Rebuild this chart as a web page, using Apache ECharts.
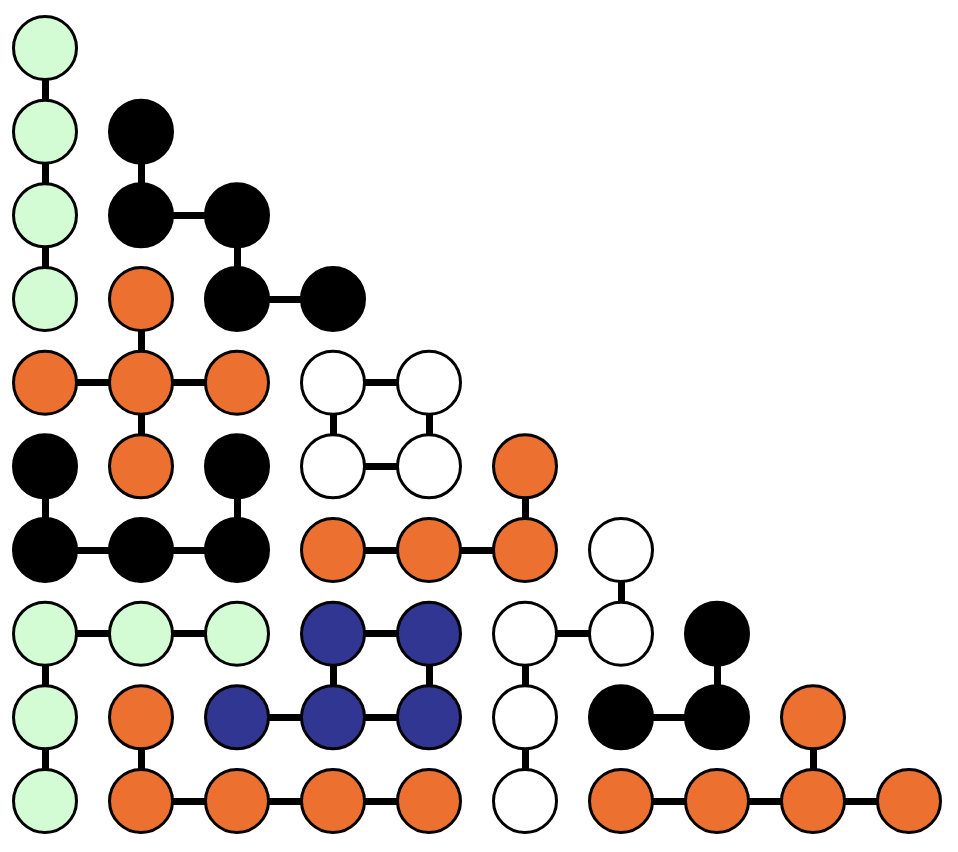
<!DOCTYPE html>
<html>
<head>
<meta charset="utf-8">
<title>grid graph</title>
<script src="https://cdn.jsdelivr.net/npm/echarts@6/dist/echarts.min.js"></script>
<style>html,body{margin:0;background:#fff;}</style>
</head>
<body>
<div id="chart" style="width:958px;height:852px;"></div>
<script type="text/javascript">
// nodes: [col, row, colour key]
var nodes = [
  [0,0,'g'],
  [0,1,'g'],[1,1,'k'],
  [0,2,'g'],[1,2,'k'],[2,2,'k'],
  [0,3,'g'],[1,3,'o'],[2,3,'k'],[3,3,'k'],
  [0,4,'o'],[1,4,'o'],[2,4,'o'],[3,4,'w'],[4,4,'w'],
  [0,5,'k'],[1,5,'o'],[2,5,'k'],[3,5,'w'],[4,5,'w'],[5,5,'o'],
  [0,6,'k'],[1,6,'k'],[2,6,'k'],[3,6,'o'],[4,6,'o'],[5,6,'o'],[6,6,'w'],
  [0,7,'g'],[1,7,'g'],[2,7,'g'],[3,7,'b'],[4,7,'b'],[5,7,'w'],[6,7,'w'],[7,7,'k'],
  [0,8,'g'],[1,8,'o'],[2,8,'b'],[3,8,'b'],[4,8,'b'],[5,8,'w'],[6,8,'k'],[7,8,'k'],[8,8,'o'],
  [0,9,'g'],[1,9,'o'],[2,9,'o'],[3,9,'o'],[4,9,'o'],[5,9,'w'],[6,9,'o'],[7,9,'o'],[8,9,'o'],[9,9,'o']
];
// edges: [c1, r1, c2, r2]
var edges = [
  [0,0,0,1],[0,1,0,2],[0,2,0,3],
  [1,1,1,2],[1,2,2,2],[2,2,2,3],[2,3,3,3],
  [1,3,1,4],[0,4,1,4],[1,4,2,4],[1,4,1,5],
  [3,4,4,4],[3,4,3,5],[4,4,4,5],[3,5,4,5],
  [0,5,0,6],[0,6,1,6],[1,6,2,6],[2,5,2,6],
  [3,6,4,6],[4,6,5,6],[5,5,5,6],
  [6,6,6,7],[5,7,6,7],[5,7,5,8],[5,8,5,9],
  [0,7,1,7],[1,7,2,7],[0,7,0,8],[0,8,0,9],
  [3,7,4,7],[3,7,3,8],[4,7,4,8],[2,8,3,8],[3,8,4,8],
  [7,7,7,8],[6,8,7,8],
  [1,8,1,9],[1,9,2,9],[2,9,3,9],[3,9,4,9],
  [6,9,7,9],[7,9,8,9],[8,9,9,9],[8,8,8,9]
];
var palette = {g:'#d4fcd4', k:'#000000', o:'#ec7130', w:'#ffffff', b:'#323693'};

var chart = echarts.init(document.getElementById('chart'));
chart.setOption({
  animation: false,
  grid: {left: 45, right: 49, top: 48, bottom: 51},
  xAxis: {type: 'value', min: 0, max: 9, show: false},
  yAxis: {type: 'value', min: 0, max: 9, inverse: true, show: false},
  series: [{
    type: 'graph',
    coordinateSystem: 'cartesian2d',
    symbol: 'circle',
    symbolSize: 63,
    data: nodes.map(function (n) {
      return {name: n[0] + '_' + n[1], value: [n[0], n[1]],
        itemStyle: {color: palette[n[2]], borderColor: '#000', borderWidth: 3}};
    }),
    links: edges.map(function (e) {
      return {source: e[0] + '_' + e[1], target: e[2] + '_' + e[3]};
    }),
    lineStyle: {color: '#000', width: 7, opacity: 1},
    label: {show: false}
  }]
});
</script>
</body>
</html>
